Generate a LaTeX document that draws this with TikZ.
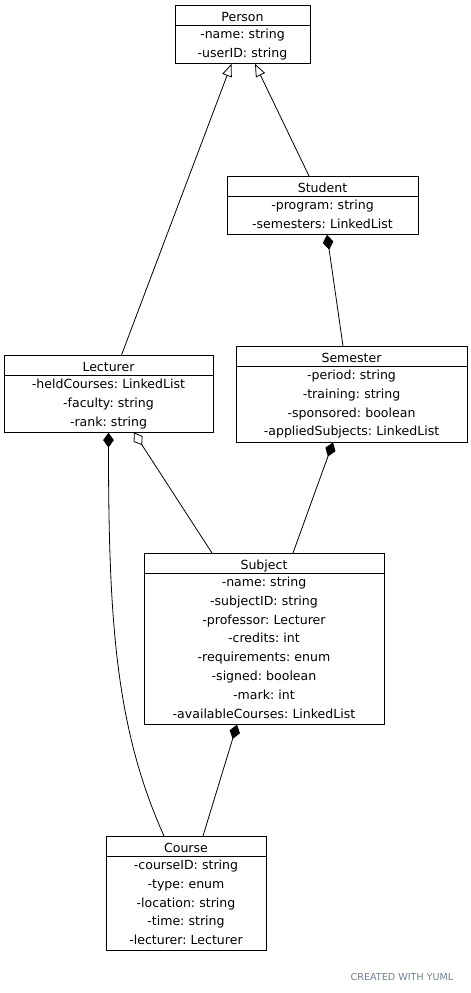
\documentclass[tikz,border=0pt]{standalone}
\usepackage{fontspec}
\setmainfont{DejaVu Sans}
\usetikzlibrary{shapes.multipart, arrows.meta, calc}
\definecolor{yumlgrey}{RGB}{112,128,144}
\newcommand{\titlerow}{\rule[-2.6pt]{0pt}{14.1pt}}
\frenchspacing

\begin{document}
\begin{tikzpicture}[x = 0.75pt, y = -0.75pt,
        umlclass/.style = {draw = black, line width = 0.6pt, rectangle split, rectangle split parts = 2, anchor = north, inner sep = 0pt, align = center, font = \fontsize{9.4}{14.1}\selectfont},
        link/.style = {draw = black, line width = 0.6pt},
        inherit/.style = {link, -{Triangle[open, length = 9.5pt, width = 7.5pt]}},
        compose/.style = {link, {Diamond[length = 11.25pt, width = 8pt]}-},
        aggregate/.style = {link, {Diamond[open, length = 11.25pt, width = 8pt]}-}]
        \useasboundingbox (0, 0) rectangle (471, 993);

        % classes
        \node [umlclass, text width = 101.25pt] (person) at (242.5, 5) {\titlerow Person \nodepart{two} \strut -name: string\\ \strut -userID: string};
        \node [umlclass, text width = 143.25pt] (student) at (322.5, 176) {\titlerow Student \nodepart{two} \strut -program: string\\ \strut -semesters: LinkedList};
        \node [umlclass, text width = 156.75pt] (lecturer) at (108.5, 355) {\titlerow Lecturer \nodepart{two} \strut -heldCourses: LinkedList\\ \strut -faculty: string\\ \strut -rank: string};
        \node [umlclass, text width = 173.25pt] (semester) at (351.5, 346) {\titlerow Semester \nodepart{two} \strut -period: string\\ \strut -training: string\\ \strut -sponsored: boolean\\ \strut -appliedSubjects: LinkedList};
        \node [umlclass, text width = 180pt] (subject) at (264, 553) {\titlerow Subject \nodepart{two} \strut -name: string\\ \strut -subjectID: string\\ \strut -professor: Lecturer\\ \strut -credits: int\\ \strut -requirements: enum\\ \strut -signed: boolean\\ \strut -mark: int\\ \strut -availableCourses: LinkedList};
        \node [umlclass, text width = 120pt] (course) at (186, 836) {\titlerow Course \nodepart{two} \strut -courseID: string\\ \strut -type: enum\\ \strut -location: string\\ \strut -time: string\\ \strut -lecturer: Lecturer};

        % relations
        \draw [inherit] ($(lecturer.north) + (13, 0)$) -- ($(person.south) + (-11, 0)$);
        \draw [inherit] ($(student.north) + (-13.5, 0)$) -- ($(person.south) + (12.5, 0)$);
        \draw [compose] ($(student.south) + (4.5, 0)$) -- ($(semester.north) + (-8.5, 0)$);
        \draw [compose] ($(semester.south) + (-18.5, 0)$) -- ($(subject.north) + (29, 0)$);
        \draw [aggregate] ($(lecturer.south) + (25.5, 0)$) -- ($(subject.north) + (-52, 0)$);
        \draw [compose] ($(subject.south) + (-27, 0)$) -- ($(course.north) + (17, 0)$);
        \draw [compose] (lecturer.south) .. controls +(0, 190) and +(-48, -107) .. ($(course.north) + (-22, 0)$);

        \node [text = yumlgrey, font = \fontsize{7.2}{8}\selectfont] (credit) at (402, 977) {CREATED WITH YUML};
    \end{tikzpicture}
\end{document}
